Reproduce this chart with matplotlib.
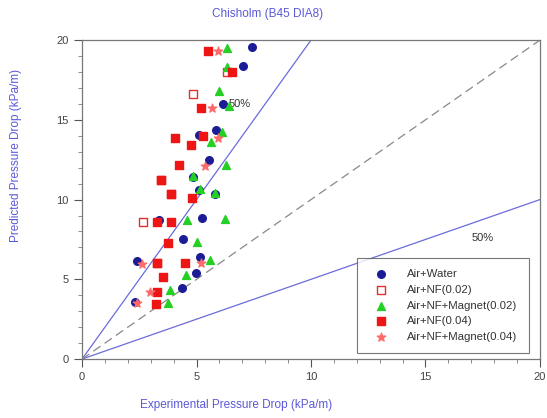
import matplotlib
matplotlib.use('Agg')
import matplotlib.pyplot as plt
from matplotlib.ticker import MultipleLocator

plt.rcParams['font.family'] = ['Liberation Sans', 'DejaVu Sans']

# Air+Water
water_x = [7.42, 7.03, 6.16, 5.85, 5.11, 5.55, 4.85, 5.11, 5.81, 3.36, 5.24, 4.41, 2.40, 5.15, 4.98, 4.37, 2.31]
water_y = [19.56, 18.37, 16.0, 14.36, 14.04, 12.48, 11.41, 10.6, 10.34, 8.71, 8.84, 7.52, 6.14, 6.4, 5.39, 4.45, 3.57]

# Air+NF(0.02) - open squares
nf02_x = [4.85, 6.33, 3.45, 3.89, 2.66, 3.28]
nf02_y = [16.6, 18.0, 11.22, 10.34, 8.59, 6.02]

# Air+NF+Magnet(0.02)
nfm02_x = [6.33, 6.33, 5.98, 6.42, 6.11, 5.63, 6.29, 4.85, 5.15, 5.81, 4.59, 6.24, 5.02, 5.59, 4.54, 3.84, 3.76]
nfm02_y = [19.5, 18.3, 16.8, 15.86, 14.23, 13.6, 12.2, 11.47, 10.66, 10.4, 8.71, 8.78, 7.34, 6.21, 5.27, 4.33, 3.51]

# Air+NF(0.04)
nf04_x = [5.50, 6.55, 5.20, 4.06, 4.76, 5.28, 4.24, 3.45, 3.89, 4.80, 3.28, 3.89, 3.76, 3.28, 4.50, 3.54, 3.28, 3.23]
nf04_y = [19.31, 18.0, 15.74, 13.86, 13.42, 13.98, 12.16, 11.22, 10.34, 10.09, 8.59, 8.59, 7.27, 6.02, 6.02, 5.14, 4.2, 3.45]

# Air+NF+Magnet(0.04)
nfm04_x = [5.94, 5.68, 5.37, 5.94, 2.62, 5.20, 2.97, 2.40]
nfm04_y = [19.31, 15.74, 12.1, 13.86, 5.96, 6.02, 4.2, 3.51]

line_col = '#6b6bdc'
lab_col = '#5a5ad8'

fig = plt.figure(figsize=(5.47, 4.18), dpi=100)
ax = fig.add_axes([0.150, 0.141, 0.837, 0.763])

# reference lines
ax.plot([0, 10], [0, 20], color=line_col, lw=0.9)
ax.plot([0, 20], [0, 10], color=line_col, lw=0.9)
ax.plot([0, 20], [0, 20], color='#888888', lw=0.9, dashes=(7, 4))
ax.text(6.4, 16.0, '50%', fontsize=8, color='#333333', va='center')
ax.text(17.0, 7.6, '50%', fontsize=8, color='#333333', va='center')

ax.scatter(water_x, water_y, marker='o', s=30, color='#1c1c96', label='Air+Water', zorder=3)
ax.scatter(nf02_x, nf02_y, marker='s', s=28, facecolor='white', edgecolor='#e43030', lw=1.0,
           label='Air+NF(0.02)', zorder=3)
ax.scatter(nfm02_x, nfm02_y, marker='^', s=32, color='#25d025', label='Air+NF+Magnet(0.02)', zorder=3)
ax.scatter(nf04_x, nf04_y, marker='s', s=30, color='#ee1515', label='Air+NF(0.04)', zorder=3)
ax.scatter(nfm04_x, nfm04_y, marker='*', s=40, color='#ff6a6a', label='Air+NF+Magnet(0.04)', zorder=3)

ax.set_xlim(0, 20)
ax.set_ylim(0, 20)
ax.xaxis.set_major_locator(MultipleLocator(5))
ax.yaxis.set_major_locator(MultipleLocator(5))
ax.xaxis.set_minor_locator(MultipleLocator(1))
ax.yaxis.set_minor_locator(MultipleLocator(1))
ax.tick_params(which='major', direction='out', length=6, width=0.8, color='#555555',
               labelsize=8, labelcolor='#444444')
ax.tick_params(which='minor', direction='out', length=3, width=0.6, color='#777777')
for sp in ax.spines.values():
    sp.set_color('#777777')
    sp.set_linewidth(0.9)

fig.text(268 / 547, 1 - 14 / 418, 'Chisholm (B45 DIA8)', color=lab_col, fontsize=8.5,
         ha='center', va='center')
fig.text(236 / 547, 1 - 405 / 418, 'Experimental Pressure Drop (kPa/m)', color=lab_col,
         fontsize=8.5, ha='center', va='center')
fig.text(16 / 547, 1 - 155 / 418, 'Predicted Pressure Drop (kPa/m)', color=lab_col,
         fontsize=8.5, ha='center', va='center', rotation=90)

leg = ax.legend(loc='lower right', fontsize=8.2, frameon=True, fancybox=False,
                edgecolor='#555555', borderpad=1.0, labelspacing=0.5, handletextpad=1.2,
                handlelength=2.2, bbox_to_anchor=(0.988, 0.0))
leg.get_frame().set_linewidth(0.8)
for t in leg.get_texts():
    t.set_color('#333333')

fig.savefig('out.png', dpi=100)
